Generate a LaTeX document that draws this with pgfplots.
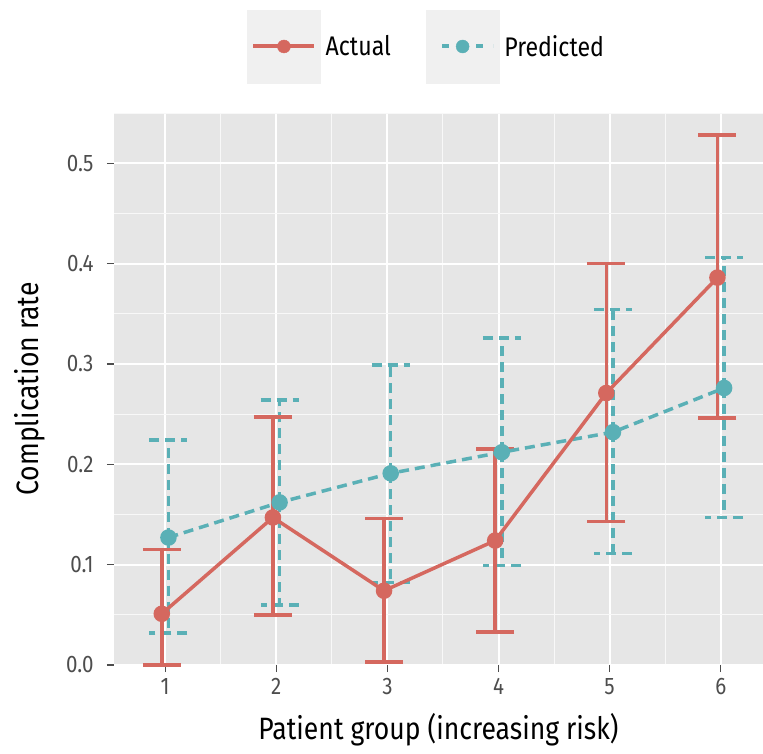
\documentclass[border=0pt]{standalone}
\usepackage{fontspec}
\setmainfont{Fira Sans}[FakeStretch=0.86]
\usepackage{pgfplots}
\pgfplotsset{compat=1.18}
\definecolor{actred}{RGB}{213,104,95}
\definecolor{predteal}{RGB}{90,176,182}
\definecolor{panelgray}{RGB}{230,230,230}
\definecolor{keygray}{RGB}{240,240,240}
\definecolor{ticktxt}{RGB}{77,77,77}
\begin{document}
\begin{tikzpicture}
\useasboundingbox (-114bp,-89bp) rectangle (649bp,665bp);
\begin{axis}[
  at={(0,0)}, anchor=south west,
  scale only axis, width=649bp, height=552bp,
  xmin=0.54, xmax=6.38, ymin=0, ymax=0.55,
  axis background/.style={fill=panelgray},
  axis line style={draw=none},
  tick pos=left,
  xtick={1,2,3,4,5,6},
  ytick={0,0.1,0.2,0.3,0.4,0.5},
  yticklabels={0.0,0.1,0.2,0.3,0.4,0.5},
  minor xtick={0.5,1.5,2.5,3.5,4.5,5.5},
  minor ytick={0.05,0.15,0.25,0.35,0.45,0.55},
  grid=both,
  major grid style={white, line width=2bp},
  minor grid style={white!70!panelgray, line width=1bp},
  tick align=outside,
  major tick length=7bp,
  minor tick length=0bp,
  tick style={ticktxt, line width=1.2bp},
  ticklabel style={font=\fontsize{24}{28}\selectfont, text=ticktxt},
  /pgf/number format/assume math mode=true,
  xticklabel style={yshift=-3bp},
  yticklabel style={xshift=-10bp},
  label style={font=\fontsize{31}{36}\selectfont},
  xlabel={Patient group (increasing risk)},
  ylabel={Complication rate},
  xlabel style={at={(axis description cs:0.5,-0.1178)}, anchor=center},
  ylabel style={at={(axis description cs:-0.1294,0.5)}, anchor=center},
  legend columns=2,
  legend style={at={(0.205,1.1205)}, anchor=west, draw=none, fill=none,
    inner sep=0pt, font=\fontsize{27}{32}\selectfont,
    nodes={inner sep=0pt},
    /tikz/every odd column/.append style={column sep=5bp},
    /tikz/every even column/.append style={column sep=35bp}},
  legend cell align=left,
  clip=false,
]
% error bars: predicted
\addplot[forget plot, predteal, line width=3.5bp, dash pattern=on 10bp off 6bp, only marks, mark=none,
  error bars/.cd, y dir=both, y explicit, error mark=-,
  error mark options={rotate=90, mark size=19bp, line width=3.5bp, predteal, dash pattern=on 10bp off 6bp},
  error bar style={line width=3.5bp, predteal, dash pattern=on 10bp off 6bp}]
  table[x=x, y=y, y error plus=ep, y error minus=em] {
  x y ep em
  1.03 0.127 0.097 0.095
  2.03 0.162 0.102 0.102
  3.03 0.191 0.108 0.109
  4.03 0.212 0.114 0.113
  5.03 0.232 0.122 0.121
  6.03 0.276 0.130 0.129
};
% error bars: actual
\addplot[forget plot, actred, line width=3.5bp, only marks, mark=none,
  error bars/.cd, y dir=both, y explicit, error mark=-,
  error mark options={rotate=90, mark size=19bp, line width=3.5bp, actred},
  error bar style={line width=3.5bp, actred}]
  table[x=x, y=y, y error plus=ep, y error minus=em] {
  x y ep em
  0.97 0.051 0.064 0.051
  1.97 0.147 0.100 0.097
  2.97 0.074 0.072 0.071
  3.97 0.124 0.091 0.091
  4.97 0.271 0.129 0.128
  5.97 0.386 0.142 0.140
};
% lines + points
\addplot[forget plot, predteal, line width=3.5bp, dash pattern=on 10bp off 6bp, mark=*, mark size=6.5bp,
  mark options={solid, fill=predteal, draw=none}] table {
  1.03 0.127
  2.03 0.162
  3.03 0.191
  4.03 0.212
  5.03 0.232
  6.03 0.276
};
\addplot[forget plot, actred, line width=3.5bp, mark=*, mark size=6.5bp,
  mark options={solid, fill=actred, draw=none}] table {
  0.97 0.051
  1.97 0.147
  2.97 0.074
  3.97 0.124
  4.97 0.271
  5.97 0.386
};
\addlegendimage{legend image code/.code={
  \fill[keygray] (0bp,-36.5bp) rectangle (73bp,36.5bp);
  \draw[actred, line width=4bp] (6bp,0bp) -- (67bp,0bp);
  \fill[actred] (36.5bp,0bp) circle (6.5bp);
}}
\addlegendentry{Actual}
\addlegendimage{legend image code/.code={
  \fill[keygray] (0bp,-36.5bp) rectangle (73bp,36.5bp);
  \draw[predteal, line width=4bp, dash pattern=on 7bp off 10bp, dash phase=-10bp] (6bp,0bp) -- (67bp,0bp);
  \fill[predteal] (36.5bp,0bp) circle (6.5bp);
}}
\addlegendentry{Predicted}
\end{axis}
\end{tikzpicture}
\end{document}
